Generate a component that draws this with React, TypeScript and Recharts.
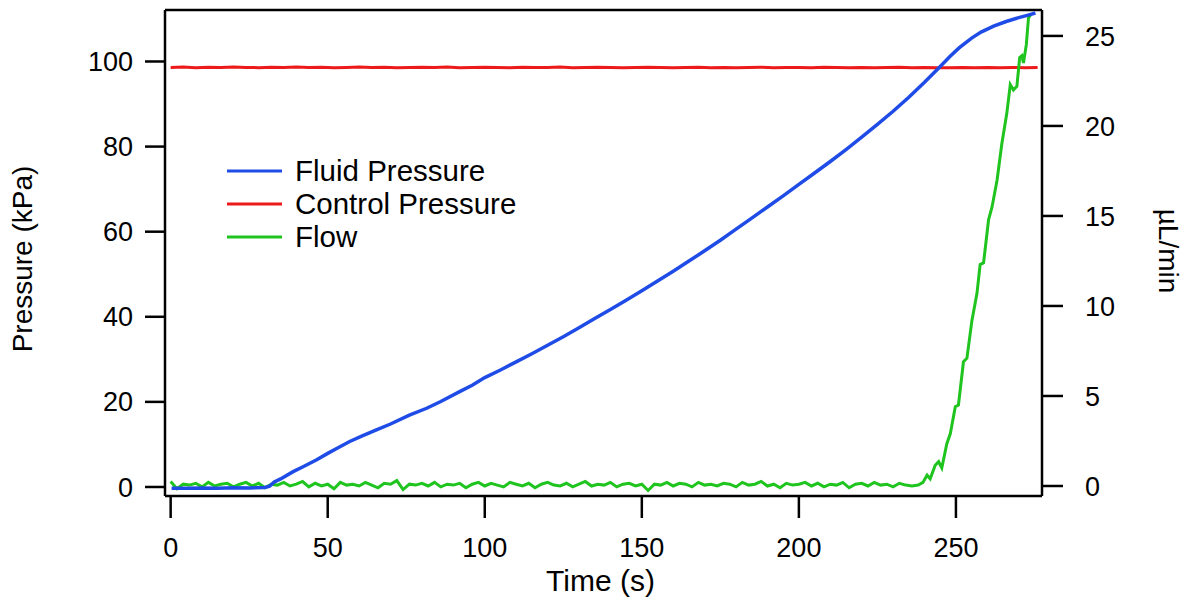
import React from "react";
import { LineChart, Line, XAxis, YAxis, Legend, ReferenceLine } from "recharts";

const FONT = '"Liberation Sans", Arial, Helvetica, sans-serif';

const BLUE = "#1f4ce6";
const RED = "#ec1a1a";
const GREEN = "#1fc41f";

const timeDomain = [-1.8, 277.4];
const pressureDomain = [-2.12, 112.1];
const flowDomain = [-0.556, 26.44];

const timeTicks = [0, 50, 100, 150, 200, 250];
const pressureTicks = [0, 20, 40, 60, 80, 100];
const flowTicks = [0, 5, 10, 15, 20, 25];

// Fluid pressure (kPa) as [time s, kPa]
const fluidPressure: [number, number][] = [
  [0.3, -0.3], [5, -0.3], [10, -0.25], [15, -0.3], [20, -0.2], [25, -0.25], [30, -0.1],
  [31.5, 0.2], [33, 1.2], [35, 1.9], [39, 3.6], [42, 4.7], [46.5, 6.4], [50, 7.9],
  [53, 9.1], [57, 10.7], [61, 12.0], [65.5, 13.4], [70, 14.8], [76, 16.9], [81.5, 18.5],
  [86, 20.1], [92, 22.4], [96, 23.9], [100, 25.7], [105, 27.5], [110, 29.4], [115, 31.3],
  [120, 33.3], [125, 35.3], [130, 37.4], [135, 39.6], [140, 41.7], [145, 43.9], [150, 46.1],
  [155, 48.4], [160, 50.7], [165, 53.1], [170, 55.5], [175, 58.0], [180, 60.6], [185, 63.2],
  [190, 65.8], [195, 68.4], [200, 71.1], [205, 73.8], [210, 76.5], [215, 79.3], [220, 82.2],
  [225, 85.2], [230, 88.3], [235, 91.6], [240, 95.1], [245, 98.8], [248, 101.1], [251, 103.2],
  [255, 105.5], [258, 106.9], [262, 108.3], [266, 109.4], [270, 110.3], [273, 110.9], [275.3, 111.4],
];

// Control pressure (kPa), one reading every 4 s from 0 to 276 s
const controlPressure = [
  98.6, 98.7, 98.55, 98.65, 98.6, 98.7, 98.6, 98.55, 98.65, 98.6,
  98.7, 98.6, 98.65, 98.55, 98.6, 98.7, 98.6, 98.65, 98.55, 98.6,
  98.65, 98.6, 98.7, 98.55, 98.6, 98.65, 98.6, 98.55, 98.65, 98.6,
  98.6, 98.7, 98.55, 98.6, 98.65, 98.6, 98.55, 98.6, 98.65, 98.6,
  98.55, 98.6, 98.65, 98.5, 98.6, 98.55, 98.6, 98.65, 98.55, 98.6,
  98.6, 98.55, 98.65, 98.6, 98.5, 98.6, 98.55, 98.6, 98.65, 98.55,
  98.6, 98.5, 98.55, 98.6, 98.55, 98.6, 98.5, 98.6, 98.55, 98.6,
];

// Flow (µL/min) baseline, one reading every 2 s from 0 to 238 s
const flowBaseline = [
  0.25, -0.15, 0.1, 0.05, 0.15, -0.05, 0.2, 0.0, 0.1, 0.15,
  -0.05, 0.1, 0.2, 0.0, 0.15, -0.1, 0.1, 0.05, 0.2, 0.0,
  0.1, 0.25, -0.05, 0.15, 0.0, 0.1, -0.15, 0.2, 0.05, 0.1,
  0.0, 0.2, 0.05, -0.1, 0.15, 0.1, 0.3, -0.2, 0.1, 0.05,
  0.15, 0.0, 0.2, -0.05, 0.1, 0.05, 0.15, -0.1, 0.1, 0.2,
  0.0, 0.15, 0.05, -0.05, 0.2, 0.1, 0.0, 0.15, -0.1, 0.1,
  0.2, 0.05, 0.0, 0.15, -0.05, 0.1, 0.25, 0.0, 0.1, 0.05,
  0.2, -0.05, 0.1, 0.15, 0.0, 0.1, -0.25, 0.1, 0.05, 0.2,
  0.0, 0.15, 0.1, -0.05, 0.2, 0.05, 0.1, 0.0, 0.15, 0.1,
  -0.05, 0.2, 0.05, 0.1, 0.25, 0.0, 0.1, -0.1, 0.15, 0.05,
  0.1, 0.2, 0.0, 0.15, -0.05, 0.1, 0.05, 0.2, -0.1, 0.1,
  0.15, 0.0, 0.2, 0.05, 0.1, -0.05, 0.15, 0.05, 0.0, 0.05,
];

// Flow onset, [time s, µL/min]
const flowRise: [number, number][] = [
  [239.5, 0.2], [240.8, 0.6], [241.8, 0.4], [243.4, 1.15], [244.5, 1.35], [245.5, 1.0],
  [247.1, 2.35], [248.2, 2.9], [249.8, 4.4], [250.8, 4.5], [252.4, 6.9], [253.5, 7.1],
  [255.1, 9.2], [256.7, 10.7], [257.7, 12.3], [258.8, 12.4], [260.4, 14.8], [261.5, 15.5],
  [263.1, 17.0], [264.6, 19.0], [266.2, 20.7], [267.3, 22.3], [268.3, 22.0], [269.4, 22.2],
  [270.3, 23.8], [271.0, 23.9], [271.5, 23.5], [272.4, 24.5], [273.1, 26.0], [273.9, 26.2],
];

const legendItems = [
  { name: "Fluid Pressure", color: BLUE },
  { name: "Control Pressure", color: RED },
  { name: "Flow", color: GREEN },
];

const fluidData = fluidPressure.map(([t, p]) => ({ t, p }));
const controlData = controlPressure.map((p, i) => ({ t: i * 4, p }));
const flowData = [
  ...flowBaseline.map((f, i) => ({ t: i * 2, f })),
  ...flowRise.map(([t, f]) => ({ t, f })),
];

const tickStyle = { fill: "#000", fontSize: 27, fontFamily: FONT };
const axisStroke = { stroke: "#000", strokeWidth: 2.5 };

// eslint-disable-next-line @typescript-eslint/no-explicit-any
function AxisTitle(props: any) {
  const { viewBox, text, side } = props;
  const vb = viewBox || { x: 0, y: 0, width: 0, height: 0 };
  const common = { fill: "#000", fontSize: 28, fontFamily: FONT, textAnchor: "middle" as const };
  if (side === "left") {
    const x = vb.x + 32;
    const y = vb.y + vb.height / 2 + 6;
    return <text {...common} x={x} y={y} transform={`rotate(-90 ${x} ${y})`}>{text}</text>;
  }
  if (side === "right") {
    const x = vb.x + 117;
    const y = vb.y + vb.height / 2 - 2;
    return <text {...common} x={x} y={y} transform={`rotate(90 ${x} ${y})`}>{text}</text>;
  }
  return (
    <text {...common} fontSize={30} x={vb.x + vb.width / 2 - 3} y={vb.y + 95}>
      {text}
    </text>
  );
}

function LegendBox() {
  return (
    <div style={{ fontFamily: FONT, fontSize: 29.5, lineHeight: "33px", color: "#000" }}>
      {legendItems.map((item) => (
        <div key={item.name} style={{ display: "flex", alignItems: "center", whiteSpace: "nowrap" }}>
          <svg width={70} height={33}>
            <line x1={2} x2={57} y1={17} y2={17} stroke={item.color} strokeWidth={3} />
          </svg>
          <span>{item.name}</span>
        </div>
      ))}
    </div>
  );
}

export default function App() {
  return (
    <div style={{ position: "absolute", left: 0, top: 0, width: 1183, height: 606, background: "#fff" }}>
      <LineChart width={1183} height={606} margin={{ top: 10, right: 0, bottom: 0, left: 0 }}>
        <XAxis
          dataKey="t"
          type="number"
          domain={timeDomain}
          ticks={timeTicks}
          allowDataOverflow
          height={110}
          tickSize={22}
          tickMargin={20}
          tick={tickStyle}
          axisLine={axisStroke}
          tickLine={axisStroke}
          label={<AxisTitle text="Time (s)" side="bottom" />}
        />
        <YAxis
          yAxisId="left"
          type="number"
          domain={pressureDomain}
          ticks={pressureTicks}
          allowDataOverflow
          width={165}
          tickSize={20}
          tickMargin={12}
          tick={tickStyle}
          axisLine={axisStroke}
          tickLine={axisStroke}
          label={<AxisTitle text="Pressure (kPa)" side="left" />}
        />
        <YAxis
          yAxisId="right"
          orientation="right"
          type="number"
          domain={flowDomain}
          ticks={flowTicks}
          allowDataOverflow
          width={141}
          tickSize={21}
          tickMargin={22}
          tick={{ ...tickStyle, textAnchor: "start" }}
          axisLine={axisStroke}
          tickLine={axisStroke}
          label={<AxisTitle text="µL/min" side="right" />}
        />
        {/* top frame line */}
        <ReferenceLine yAxisId="left" y={pressureDomain[1]} stroke="#000" strokeWidth={2.5} ifOverflow="visible" />
        <Line
          data={controlData}
          yAxisId="left"
          dataKey="p"
          type="linear"
          stroke={RED}
          strokeWidth={3}
          dot={false}
          isAnimationActive={false}
          name="Control Pressure"
        />
        <Line
          data={flowData}
          yAxisId="right"
          dataKey="f"
          type="linear"
          stroke={GREEN}
          strokeWidth={3}
          dot={false}
          isAnimationActive={false}
          name="Flow"
        />
        <Line
          data={fluidData}
          yAxisId="left"
          dataKey="p"
          type="linear"
          stroke={BLUE}
          strokeWidth={3.5}
          dot={false}
          isAnimationActive={false}
          name="Fluid Pressure"
        />
        <Legend
          layout="vertical"
          align="center"
          verticalAlign="middle"
          wrapperStyle={{ left: 225, top: 154, width: "auto" }}
          content={<LegendBox />}
        />
      </LineChart>
    </div>
  );
}
